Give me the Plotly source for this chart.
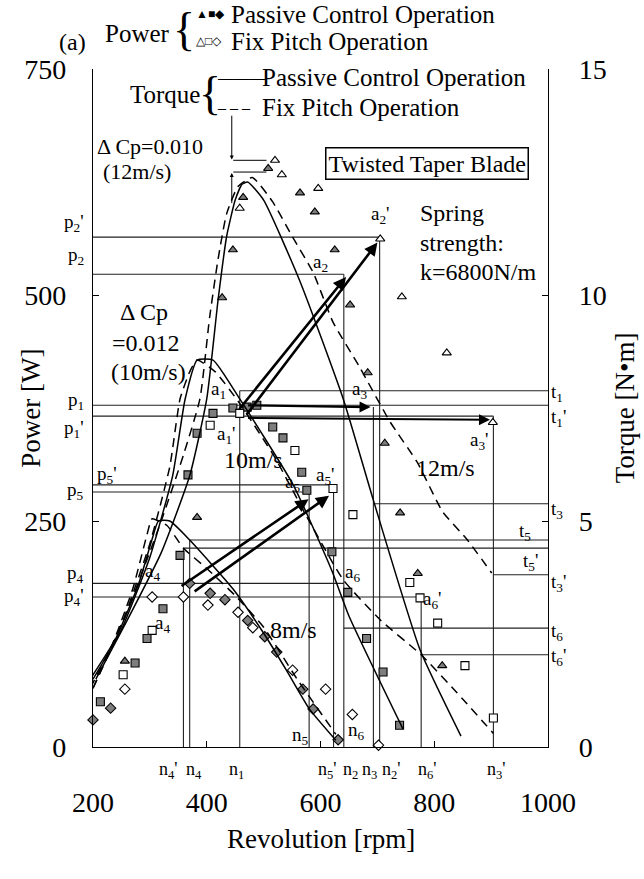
import plotly.graph_objects as go

# ---------------- data ----------------
# Torque curves (rpm, N*m)  -- passive control (solid) / fix pitch (dashed)
rpm8_pc = [195, 240, 280, 304, 315, 335, 370, 446, 501, 540, 580, 627]
tq8_pc = [1.5, 2.4, 3.6, 4.6, 5.0, 5.0, 4.58, 3.5, 2.5, 1.7, 0.85, 0.15]
rpm8_fp = [195, 235, 270, 295, 304, 330, 359, 400, 450, 500, 559, 627]
tq8_fp = [1.3, 2.3, 3.5, 4.7, 5.05, 4.9, 4.4, 3.95, 3.35, 2.65, 1.5, 0.28]

rpm10_pc = [200, 250, 300, 340, 362, 383, 411, 458, 552, 620, 650, 745]
tq10_pc = [1.5, 2.6, 4.2, 6.0, 7.7, 8.56, 8.56, 7.7, 5.8, 3.9, 2.9, 0.4]
rpm10_fp = [200, 250, 300, 335, 353, 370, 383, 415, 458, 520, 580, 640, 706, 777, 840, 904]
tq10_fp = [1.3, 2.7, 4.5, 6.2, 7.7, 8.3, 8.56, 8.3, 7.6, 6.4, 5.0, 3.7, 2.8, 2.04, 1.2, 0.3]

rpm12_pc = [205, 260, 320, 370, 400, 420, 435, 450, 462, 472, 500, 564, 640, 692, 775, 847]
tq12_pc = [1.5, 2.8, 4.3, 6.0, 7.7, 9.9, 11.3, 12.1, 12.45, 12.5, 12.1, 10.3, 7.7, 5.5, 2.15, 0.24]
rpm12_fp = [200, 260, 320, 360, 388, 405, 420, 435, 455, 480, 516, 550, 587, 622, 669, 722, 770, 815, 857, 901]
tq12_fp = [1.3, 3.0, 5.0, 6.5, 7.7, 9.5, 10.8, 11.8, 12.4, 12.6, 12.06, 11.3, 10.5, 9.4, 8.4, 7.2, 6.3, 5.2, 4.6, 3.85]

# Power measurements (rpm, W)
p12_pc_rpm = [256, 383, 427, 446, 464, 508, 564, 590, 625, 652, 683, 713, 740, 771, 814]
p12_pc_w = [95, 254, 497, 550, 608, 640, 613, 592, 550, 489, 414, 336, 259, 192, 90]
p12_fp_rpm = [458, 520, 532, 596, 705, 743, 822, 903]
p12_fp_w = [596, 649, 633, 618, 562, 498, 436, 359]

p10_pc_rpm = [213, 274, 295, 323, 353, 367, 383, 411, 446, 471, 488, 516, 534, 567, 576, 620, 648, 681, 710, 739]
p10_pc_w = [50, 93, 120, 153, 212, 301, 347, 369, 375, 376, 378, 354, 342, 304, 284, 216, 171, 120, 83, 24]
p10_fp_rpm = [253, 304, 406, 458, 555, 622, 657, 757, 775, 806, 854, 904]
p10_fp_w = [80, 129, 356, 369, 328, 286, 257, 182, 165, 137, 90, 32]

p8_pc_rpm = [200, 231, 370, 406, 432, 472, 502, 523, 569, 587, 631]
p8_pc_w = [30, 43, 181, 170, 163, 140, 122, 105, 64, 42, 8]
p8_fp_rpm = [188, 256, 304, 359, 402, 455, 481, 551, 609, 656, 702]
p8_fp_w = [25, 64, 166, 166, 157, 149, 132, 85, 64, 36, 2]

# Reference levels
p_names = ["p<sub>2</sub>'", "p<sub>2</sub>", "p<sub>1</sub>", "p<sub>1</sub>'", "p<sub>5</sub>'", "p<sub>5</sub>", "p<sub>4</sub>", "p<sub>4</sub>'"]
p_vals = [564, 523, 378, 366, 290, 282, 181, 166]
p_end = [704, 641, 1000, 904, 623, 580, 641, 775]

t_names = ["t<sub>1</sub>", "t<sub>3</sub>", "t<sub>5</sub>", "t<sub>5</sub>'", "t<sub>3</sub>'", "t<sub>6</sub>", "t<sub>6</sub>'"]
t_vals = [7.88, 5.38, 4.58, 4.40, 3.81, 2.63, 2.04]
t_start = [458, 693, 370, 359, 904, 641, 777]

n_names = ["n<sub>4</sub>'", "n<sub>4</sub>", "n<sub>1</sub>", "n<sub>5</sub>'", "n<sub>2</sub>", "n<sub>3</sub>", "n<sub>2</sub>'", "n<sub>6</sub>'", "n<sub>3</sub>'"]
n_vals = [359, 370, 458, 580, 623, 641, 693, 704, 777, 904]
n_top = [220, 229, 394, 282, 290, 523, 376, 564, 165, 366]

x_ticks = [200, 400, 600, 800, 1000]
p_ticks = [0, 250, 500, 750]
t_ticks = [0, 5, 10, 15]

FONT = "Liberation Serif, Times New Roman, serif"
fig = go.Figure()

# reference lines
hx, hy = [], []
for v, e in zip(p_vals, p_end):
    hx += [200, e, None]; hy += [v, v, None]
for n, t in zip(n_vals, n_top):
    hx += [n, n, None]; hy += [0, t, None]
fig.add_trace(go.Scatter(x=hx, y=hy, mode="lines", line=dict(color="#222", width=1.1),
                         hoverinfo="skip", showlegend=False))
tx, ty = [], []
for v, s in zip(t_vals, t_start):
    tx += [s, 1000, None]; ty += [v, v, None]
fig.add_trace(go.Scatter(x=tx, y=ty, yaxis="y2", mode="lines", line=dict(color="#222", width=1.1),
                         hoverinfo="skip", showlegend=False))

# torque curves
def curve(x, y, dash):
    fig.add_trace(go.Scatter(x=x, y=y, yaxis="y2", mode="lines",
                             line=dict(color="black", width=1.5, dash=dash, shape="spline", smoothing=0.5),
                             hoverinfo="skip", showlegend=False))

for x, y in [(rpm8_pc, tq8_pc), (rpm10_pc, tq10_pc), (rpm12_pc, tq12_pc)]:
    curve(x, y, "solid")
for x, y in [(rpm8_fp, tq8_fp), (rpm10_fp, tq10_fp), (rpm12_fp, tq12_fp)]:
    curve(x, y, "9px,6px")

# power points
def pts(x, y, sym, filled):
    fig.add_trace(go.Scatter(x=x, y=y, mode="markers", cliponaxis=False,
                             marker=dict(symbol=sym, size=8,
                                         color="#7d7d7d" if filled else "white",
                                         line=dict(color="black", width=1.1)),
                             hoverinfo="skip", showlegend=False))

pts(p12_pc_rpm, p12_pc_w, "triangle-up", True)
pts(p12_fp_rpm, p12_fp_w, "triangle-up", False)
pts(p10_pc_rpm, p10_pc_w, "square", True)
pts(p10_fp_rpm, p10_fp_w, "square", False)
pts(p8_pc_rpm, p8_pc_w, "diamond", True)
pts(p8_fp_rpm, p8_fp_w, "diamond", False)

ann = []
def txt(x, y, s, size=24, xanchor="center", yanchor="middle", xref="x", yref="y", **kw):
    ann.append(dict(x=x, y=y, text=s, xref=xref, yref=yref, showarrow=False,
                    font=dict(family=FONT, size=size, color="black"),
                    xanchor=xanchor, yanchor=yanchor, **kw))

def arrow(x0, y0, x1, y1, w=2.6, head=2, size=1.0):
    ann.append(dict(x=x1, y=y1, ax=x0, ay=y0, xref="x", yref="y", axref="x", ayref="y",
                    showarrow=True, arrowhead=head, arrowwidth=w, arrowsize=size,
                    arrowcolor="black", text=""))

# operating-point arrows
arrow(455, 372, 645, 520)
arrow(468, 366, 700, 558)
arrow(470, 378, 688, 376, w=2.2)
arrow(470, 364, 898, 362, w=2.2)
arrow(353, 177, 579, 274)
arrow(376, 171, 615, 278)
# delta Cp (12 m/s) marks
arrow(444, 700, 444, 650, w=1, head=2, size=0.8)
arrow(444, 600, 444, 635, w=1, head=2, size=0.8)
ann.append(dict(x=505, y=649, ax=444, ay=649, xref="x", yref="y", axref="x", ayref="y",
                showarrow=True, arrowhead=0, arrowwidth=1, arrowcolor="black", text=""))
ann.append(dict(x=505, y=636, ax=444, ay=636, xref="x", yref="y", axref="x", ayref="y",
                showarrow=True, arrowhead=0, arrowwidth=1, arrowcolor="black", text=""))

# in-plot texts
txt(482, 318, "10m/s")
txt(552, 129, "8m/s")
txt(819, 309, "12m/s")
txt(290, 481, "Δ Cp")
txt(294, 447, "=0.012")
txt(298, 415, "(10m/s)")
txt(203, 664, "Δ Cp=0.010", xanchor="left", size=22)
txt(214, 637, "(12m/s)", xanchor="left", size=22)
txt(771, 591, "Spring", xanchor="left")
txt(771, 557, "strength:", xanchor="left")
txt(771, 526, "k=6800N/m", xanchor="left")
ann.append(dict(x=787, y=646, xref="x", yref="y", text="Twisted Taper Blade", showarrow=False,
                font=dict(family=FONT, size=24, color="black"), bordercolor="black",
                borderwidth=1.5, borderpad=2, bgcolor="white"))

# point labels
for x, y, s in [(420, 395, "a<sub>1</sub>"), (434, 345, "a<sub>1</sub>'"), (600, 535, "a<sub>2</sub>"),
                (705, 588, "a<sub>2</sub>'"), (668, 395, "a<sub>3</sub>"), (880, 338, "a<sub>3</sub>'"),
                (305, 194, "a<sub>4</sub>"), (322, 136, "a<sub>4</sub>"), (550, 292, "a<sub>5</sub>"),
                (609, 300, "a<sub>5</sub>'"), (657, 193, "a<sub>6</sub>"), (797, 163, "a<sub>6</sub>'"),
                (565, 12, "n<sub>5</sub>"), (663, 18, "n<sub>6</sub>")]:
    txt(x, y, s, size=19)

# n labels below axis
n_lab_x = [333, 378, 452, 612, 653, 687, 724, 789, 910]
for nm, xv in zip(n_names, n_lab_x):
    txt(xv, 0, nm, size=18, yanchor="top", yshift=-10)

# p labels (left of axis)
p_lab_y = [580, 543, 383, 352, 301, 283, 191, 166]
for nm, yv in zip(p_names, p_lab_y):
    if nm == "p<sub>5</sub>'":
        txt(203, yv, nm, size=19, xanchor="left")
    else:
        txt(-0.015, yv, nm, size=19, xanchor="right", xref="paper")

# t labels (right of axis)
t_lab = [(1.003, 7.83, "left"), (1.003, 5.24, "left"), (0.967, 4.76, "right"), (0.982, 4.09, "right"),
         (1.003, 3.63, "left"), (1.003, 2.54, "left"), (1.003, 1.99, "left")]
for nm, (xv, yv, xa) in zip(t_names, t_lab):
    txt(xv, yv, nm, size=19, xanchor=xa, xref="paper", yref="y2")
txt(1.003, 7.28, "t<sub>1</sub>'", size=19, xanchor="left", xref="paper", yref="y2")

# legend header (paper coords)
txt(-0.045, 1.040, "(a)", size=24, xref="paper", yref="paper")
txt(0.022, 1.052, "Power", size=25, xanchor="left", xref="paper", yref="paper")
txt(0.172, 1.058, "{", size=46, xanchor="left", xref="paper", yref="paper")
txt(0.222, 1.081, "▲■◆", size=12, xanchor="left", xref="paper", yref="paper")
txt(0.222, 1.041, "△□◇", size=12, xanchor="left", xref="paper", yref="paper")
txt(0.298, 1.081, "Passive Control Operation", size=25, xanchor="left", xref="paper", yref="paper")
txt(0.298, 1.041, "Fix Pitch Operation", size=25, xanchor="left", xref="paper", yref="paper")
txt(0.077, 0.962, "Torque", size=25, xanchor="left", xref="paper", yref="paper")
txt(0.228, 0.964, "{", size=46, xanchor="left", xref="paper", yref="paper")
txt(0.268, 0.987, "———", size=16, xanchor="left", xref="paper", yref="paper")
txt(0.268, 0.943, "– – –", size=16, xanchor="left", xref="paper", yref="paper")
txt(0.366, 0.987, "Passive Control Operation", size=25, xanchor="left", xref="paper", yref="paper")
txt(0.366, 0.943, "Fix Pitch Operation", size=25, xanchor="left", xref="paper", yref="paper")

# axis titles
txt(0.5, -0.135, "Revolution [rpm]", size=27, xref="paper", yref="paper")
txt(-0.137, 0.5, "Power [W]", size=27, xref="paper", yref="paper", textangle=-90)
txt(1.17, 0.5, "Torque [N•m]", size=27, xref="paper", yref="paper", textangle=-90)

axis_common = dict(showline=True, linecolor="black", linewidth=1.2, ticks="inside", ticklen=6,
                   tickcolor="black", showgrid=False, zeroline=False,
                   tickfont=dict(family=FONT, size=28, color="black"))
fig.update_layout(
    width=644, height=879, margin=dict(l=93, r=96, t=69, b=132),
    paper_bgcolor="white", plot_bgcolor="white", showlegend=False,
    xaxis=dict(range=[200, 1000], tickvals=x_ticks, ticklabelstandoff=30, **axis_common),
    yaxis=dict(range=[0, 750], tickvals=p_ticks, ticklabelstandoff=20, **axis_common),
    yaxis2=dict(range=[0, 15], tickvals=t_ticks, overlaying="y", side="right",
                ticklabelstandoff=24, **axis_common),
    annotations=ann,
)
fig.write_html("out.html")
